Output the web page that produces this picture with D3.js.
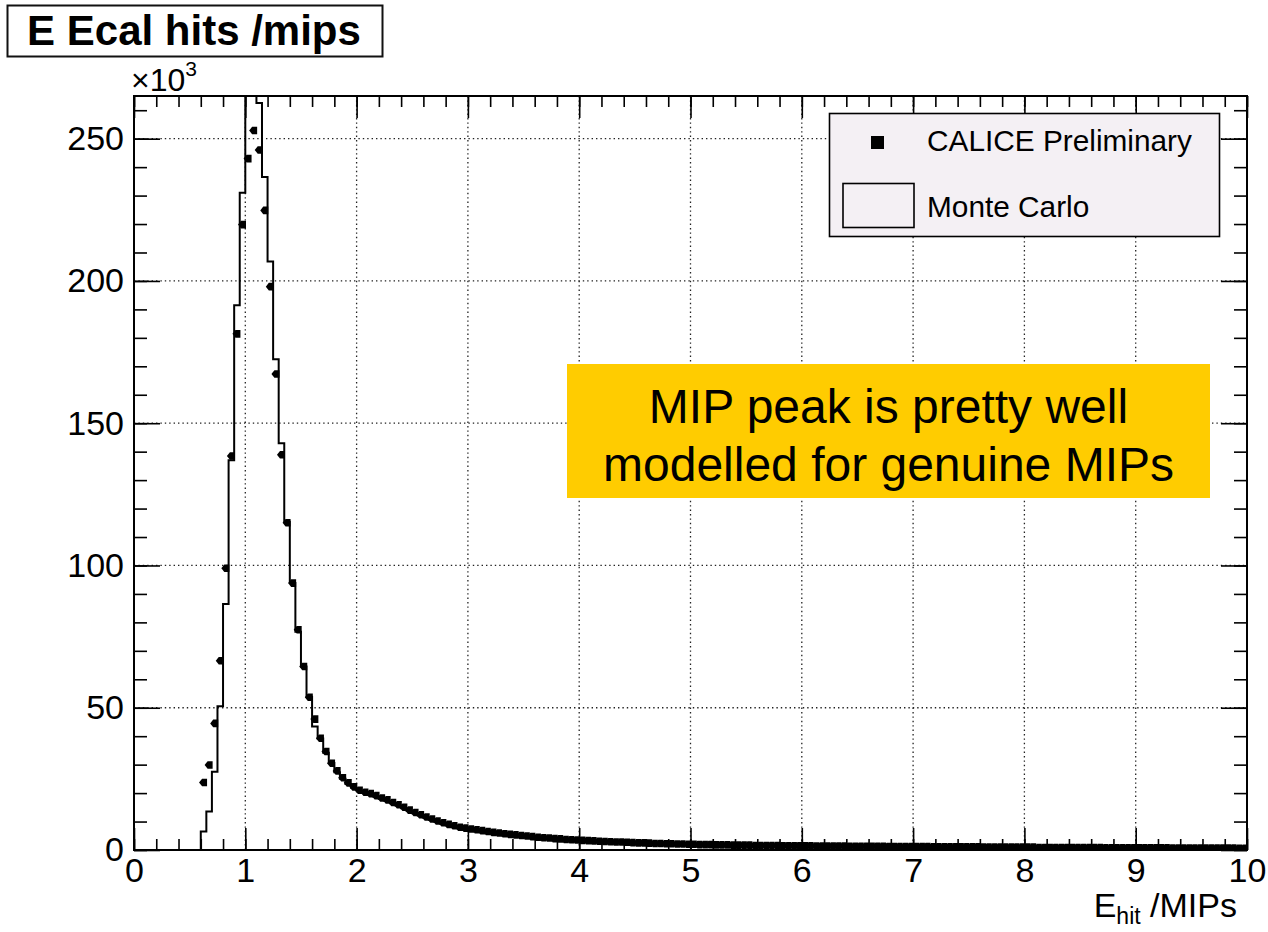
<!DOCTYPE html>
<html><head><meta charset="utf-8">
<script src="https://cdn.jsdelivr.net/npm/d3@7"></script>
<style>
html,body{margin:0;padding:0;background:#fff;}
svg{display:block;font-family:"Liberation Sans",Arial,sans-serif;}
</style></head><body>
<svg id="chart" width="1268" height="932"></svg>
<script>
// ---- data (counts in units of 10^3, bins of width 0.05 from 0 to 10) ----
const binWidth = 0.05;
const xRange = [0, 10];
const yMax = 265;
const mcCounts = [
  0,0,0,0,0,0,0,0,0,0,0,0,
  6.5,13.5,27.5,50.5,86.5,137,191.5,231,290,280,262.5,236.5,206.8,172.5,143,115.4,93.8,76.7,64.5,53.9,43.4,39.2,
  34.2,30.6,27.3,25.0,23.2,21.9,20.8,20.1,19.5,18.8,18.0,17.3,16.4,15.6,14.7,13.7,12.9,12.1,11.3,10.6,9.9,9.3,8.8,8.3,7.8,7.5,
  7.3,7.0,6.7,6.4,6.1,5.9,5.6,5.4,5.2,5.0,
  4.8,4.6,4.4,4.2,4.1,3.9,3.8,3.6,3.5,3.4,
  3.3,3.2,3.1,3.0,2.9,2.8,2.7,2.6,2.5,2.4,
  2.3,2.3,2.2,2.1,2.1,2.0,2.0,1.9,1.9,1.8,
  1.8,1.7,1.7,1.7,1.6,1.6,1.6,1.5,1.5,1.5,
  1.5,1.4,1.4,1.4,1.4,1.4,1.3,1.3,1.3,1.3,
  1.3,1.3,1.2,1.2,1.2,1.2,1.2,1.2,1.1,1.1,
  1.1,1.1,1.1,1.1,1.1,1.0,1.0,1.0,1.0,1.0,
  1.0,1.0,1.0,0.9,0.9,0.9,0.9,0.9,0.3,0.3,
  0.3,0.3,0.3,0.3,0.3,0.3,0.3,0.3,0.3,0.3,
  0.3,0.3,0.3,0.3,0.3,0.3,0.3,0.3,0.3,0.3,
  0.3,0.3,0.3,0.3,0.3,0.2,0.2,0.2,0.2,0.2,
  0.2,0.2,0.2,0.2,0.2,0.2,0.2,0.2,0.2,0.2,
  0.2,0.2,0.2,0.2,0.2,0.2,0.2,0.2,0.2,0.2
];
const dataCounts = [
  null,null,null,null,null,null,null,null,null,null,null,null,
  23.7,29.9,44.5,66.5,99,138.5,181.4,219.8,243,252.9,246,224.8,198,167.3,138.9,115,93.8,77.4,64.5,53.7,46,39.3,34.6,30.5,
  27.8,25.4,23.6,22.2,21.0,20.3,19.8,19.1,18.3,17.6,16.7,15.9,15.0,14.0,13.2,12.4,11.6,10.9,10.2,9.6,9.0,8.5,8.0,7.7,
  7.4,7.1,6.8,6.5,6.2,6.0,5.7,5.5,5.3,5.1,
  4.9,4.7,4.5,4.3,4.2,4.0,3.9,3.7,3.6,3.5,
  3.4,3.3,3.2,3.1,3.0,2.9,2.8,2.8,2.7,2.6,
  2.5,2.5,2.4,2.3,2.3,2.2,2.2,2.1,2.1,2.0,
  2.0,1.9,1.9,1.9,1.8,1.8,1.8,1.7,1.7,1.7,
  1.7,1.6,1.6,1.6,1.6,1.6,1.5,1.5,1.5,1.5,
  1.5,1.5,1.4,1.4,1.4,1.4,1.4,1.4,1.3,1.3,
  1.3,1.3,1.3,1.3,1.3,1.2,1.2,1.2,1.2,1.2,
  1.2,1.2,1.2,1.1,1.1,1.1,1.1,1.1,1.1,1.1,
  1.1,1.1,1.0,1.0,1.0,1.0,1.0,1.0,1.0,1.0,
  1.0,1.0,0.9,0.9,0.9,0.9,0.9,0.9,0.9,0.9,
  0.9,0.9,0.9,0.9,0.8,0.8,0.8,0.8,0.8,0.8,
  0.8,0.8,0.8,0.8,0.8,0.8,0.7,0.7,0.7,0.7,
  0.7,0.7,0.7,0.7,0.7,0.7,0.7,0.7,0.6,0.6
];
const xTickValues = [0,1,2,3,4,5,6,7,8,9,10];
const xMinorStep = 0.2;
const yTickValues = [0,50,100,150,200,250];
const yMinorStep = 10;
const titleText = "E Ecal hits /mips";
const legendLabels = ["CALICE Preliminary", "Monte Carlo"];
const noteLines = ["MIP peak is pretty well", "modelled for genuine MIPs"];

// ---- layout ----
const svg = d3.select("#chart");
const L = 134, R = 1247, T = 96, B = 850;
const x = d3.scaleLinear().domain(xRange).range([L, R]);
const y = d3.scaleLinear().domain([0, yMax]).range([B, T]);

svg.append("defs").append("clipPath").attr("id", "plotclip")
  .append("rect").attr("x", L).attr("y", T).attr("width", R - L).attr("height", B - T);

// grid
const gridX = xTickValues.filter(v => v > xRange[0] && v < xRange[1]);
const gridY = yTickValues.filter(v => v > 0);
const grid = svg.append("g").attr("stroke", "#222").attr("stroke-width", 1.3).attr("stroke-dasharray", "1.4,3");
grid.selectAll("line.gx").data(gridX).join("line").attr("class", "gx")
  .attr("x1", d => x(d)).attr("x2", d => x(d)).attr("y1", T).attr("y2", B);
grid.selectAll("line.gy").data(gridY).join("line").attr("class", "gy")
  .attr("y1", d => y(d)).attr("y2", d => y(d)).attr("x1", L).attr("x2", R);

// minor tick values
const xMinor = d3.range(Math.round((xRange[1] - xRange[0]) / xMinorStep) + 1).map(i => +(xRange[0] + i * xMinorStep).toFixed(3));
const yMinor = d3.range(Math.floor(yMax / yMinorStep) + 1).map(i => i * yMinorStep);

function styleAxis(g) {
  g.select(".domain").remove();
  g.selectAll(".tick line").attr("stroke", "#000").attr("stroke-width", 1.6);
  g.selectAll(".tick text").attr("fill", "#000").attr("font-size", 34)
    .attr("font-family", "'Liberation Sans', Arial, sans-serif");
}
// bottom
svg.append("g").attr("transform", `translate(0,${B})`)
  .call(d3.axisBottom(x).tickValues(xMinor).tickSize(-11).tickFormat("")).call(styleAxis);
svg.append("g").attr("transform", `translate(0,${B})`)
  .call(d3.axisBottom(x).tickValues(xTickValues).tickSize(-22).tickPadding(8).tickFormat(d3.format("d"))).call(styleAxis);
// top
svg.append("g").attr("transform", `translate(0,${T})`)
  .call(d3.axisTop(x).tickValues(xMinor).tickSize(-11).tickFormat("")).call(styleAxis);
svg.append("g").attr("transform", `translate(0,${T})`)
  .call(d3.axisTop(x).tickValues(xTickValues).tickSize(-22).tickFormat("")).call(styleAxis);
// left
svg.append("g").attr("transform", `translate(${L},0)`)
  .call(d3.axisLeft(y).tickValues(yMinor).tickSize(-13).tickFormat("")).call(styleAxis);
svg.append("g").attr("transform", `translate(${L},0)`)
  .call(d3.axisLeft(y).tickValues(yTickValues).tickSize(-26).tickPadding(10).tickFormat(d3.format("d"))).call(styleAxis);
// right
svg.append("g").attr("transform", `translate(${R},0)`)
  .call(d3.axisRight(y).tickValues(yMinor).tickSize(-13).tickFormat("")).call(styleAxis);
svg.append("g").attr("transform", `translate(${R},0)`)
  .call(d3.axisRight(y).tickValues(yTickValues).tickSize(-26).tickFormat("")).call(styleAxis);

// MC histogram outline
const mcPts = [[xRange[0], 0]];
mcCounts.forEach((v, i) => {
  mcPts.push([xRange[0] + i * binWidth, v]);
  mcPts.push([xRange[0] + (i + 1) * binWidth, v]);
});
const line = d3.line().x(d => x(d[0])).y(d => y(d[1]));
svg.append("path").attr("clip-path", "url(#plotclip)")
  .attr("d", line(mcPts)).attr("fill", "none").attr("stroke", "#000").attr("stroke-width", 2)
  .attr("stroke-linejoin", "miter");

// data markers
const markerPath = "M-4.5,0 L-1.5,-3.8 L3.5,-3.8 L3.5,3.8 L-1.5,3.8 Z";
const pts = dataCounts.map((v, i) => ({c: xRange[0] + (i + 0.5) * binWidth, v})).filter(d => d.v !== null);
svg.append("g").attr("clip-path", "url(#plotclip)")
  .selectAll("path").data(pts).join("path")
  .attr("transform", d => `translate(${x(d.c)},${y(d.v)})`)
  .attr("d", markerPath).attr("fill", "#000");

// frame
svg.append("rect").attr("x", L).attr("y", T).attr("width", R - L).attr("height", B - T)
  .attr("fill", "none").attr("stroke", "#000").attr("stroke-width", 2);

// x10^3
const ex = svg.append("text").attr("x", 131).attr("y", 91).attr("font-size", 32).attr("fill", "#000");
ex.append("tspan").text("\u00d710");
ex.append("tspan").attr("font-size", 21).attr("dy", -15).text("3");

// axis title
const xt = svg.append("text").attr("x", 1237).attr("y", 917).attr("text-anchor", "end").attr("font-size", 34).attr("fill", "#000");
xt.append("tspan").text("E");
xt.append("tspan").attr("font-size", 23).attr("dy", 7).text("hit");
xt.append("tspan").attr("dy", -7).text(" /MIPs");

// title box
svg.append("rect").attr("x", 7.5).attr("y", 5.5).attr("width", 375).attr("height", 51)
  .attr("fill", "#fff").attr("stroke", "#111").attr("stroke-width", 2);
svg.append("text").attr("x", 194).attr("y", 45).attr("text-anchor", "middle")
  .attr("font-size", 42).attr("font-weight", "bold").attr("fill", "#000").text(titleText);

// legend
const lg = svg.append("g");
lg.append("rect").attr("x", 829.5).attr("y", 113.5).attr("width", 390).attr("height", 123)
  .attr("fill", "#f4f0f4").attr("stroke", "#000").attr("stroke-width", 1.6);
lg.append("rect").attr("x", 871).attr("y", 136).attr("width", 13).attr("height", 13).attr("fill", "#000");
lg.append("rect").attr("x", 843).attr("y", 183.5).attr("width", 71).attr("height", 44)
  .attr("fill", "none").attr("stroke", "#000").attr("stroke-width", 1.6);
lg.selectAll("text").data(legendLabels).join("text")
  .attr("x", 927).attr("y", (d, i) => 151 + i * 66)
  .attr("font-size", 29.8).attr("fill", "#000").text(d => d);

// note box
svg.append("rect").attr("x", 567).attr("y", 364).attr("width", 643).attr("height", 134).attr("fill", "#FFCC00");
svg.append("g").selectAll("text").data(noteLines).join("text")
  .attr("x", 888.5).attr("y", (d, i) => 423 + i * 58).attr("text-anchor", "middle")
  .attr("font-size", 48).attr("fill", "#000").text(d => d);
</script>
</body></html>
